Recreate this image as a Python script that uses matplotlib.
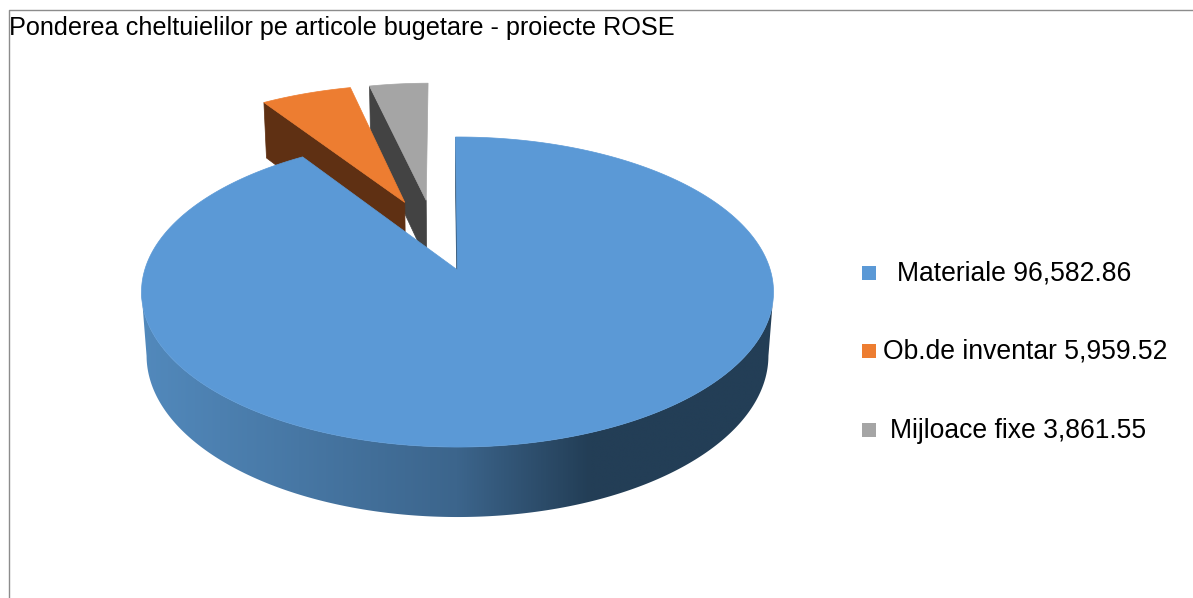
import numpy as np
import matplotlib
matplotlib.use("Agg")
import matplotlib.pyplot as plt
from matplotlib.colors import LinearSegmentedColormap
from matplotlib.patches import Polygon

plt.rcParams['font.family'] = ['Liberation Sans', 'DejaVu Sans']

labels = ["Materiale", "Ob.de inventar", "Mijloace fixe"]
values = [96582.86, 5959.52, 3861.55]
title = "Ponderea cheltuielilor pe articole bugetare - proiecte ROSE"

top_colors = ["#5B99D6", "#ED7D31", "#A5A5A5"]
cut_colors = ["#2F5373", "#5F3013", "#434343"]

# how far each slice is pulled out, in units of the radius
pull_u = [0.0, -0.180, -0.107]
pull_v = [0.0, -0.475, -0.490]

# pie placement in pixels + perspective
cx, cy = 457.5, 270
rx, ry = 312.8, 151.9
depth = 64
k_persp = 0.142
m_persp = 0.016
start_angle = -0.4


def project(u, v, z):
    s = 1 / (1 - k_persp * v + m_persp * z)
    return cx + rx * u * s, cy + (ry * v + depth * z) * s


def rim_xy(theta, pu, pv, z):
    t = np.radians(theta)
    return project(pu + np.sin(t), pv - np.cos(t), z)


def top_face(a, b, pu, pv):
    th = np.linspace(a, b, 300)
    x, y = rim_xy(th, pu, pv, 0)
    x0, y0 = project(pu, pv, 0)
    return np.r_[x0, x], np.r_[y0, y]


def cut_face(angle, pu, pv):
    x0, y0 = project(pu, pv, 0)
    x1, y1 = rim_xy(angle, pu, pv, 0)
    x2, y2 = rim_xy(angle, pu, pv, 1)
    x3, y3 = project(pu, pv, 1)
    return [x0, x1, x2, x3], [y0, y1, y2, y3]


fig = plt.figure(figsize=(11.93, 5.98), dpi=100)
ax = fig.add_axes([0, 0, 1, 1])
ax.axis("off")

# chart border, only top and left are inside the crop
ax.plot([9, 9, 1193], [598, 10, 10], color="#8C8C8C", lw=1.0, zorder=1)

angles = start_angle + np.r_[0, np.cumsum(values)] / np.sum(values) * 360

# small slices first, the big one goes over them
for i in [2, 1]:
    xs, ys = cut_face(angles[i], pull_u[i], pull_v[i])
    ax.fill(xs, ys, color=cut_colors[i], lw=0.5, zorder=2)
    xs, ys = top_face(angles[i], angles[i + 1], pull_u[i], pull_v[i])
    ax.fill(xs, ys, color=top_colors[i], lw=0.5, zorder=2)

# outer wall of the big slice, gradient image clipped to the wall shape
# only the front part between the two silhouette angles is visible
side_cmap = LinearSegmentedColormap.from_list(
    "side", [(0.0, "#5289BC"), (0.5, "#3C658C"), (0.71, "#233E56"), (1.0, "#233E56")])
edge_angle = np.degrees(np.arccos(-k_persp))
th = np.linspace(edge_angle, 360 - edge_angle, 600)
x_top, y_top = rim_xy(th, 0, 0, 0)
x_bot, y_bot = rim_xy(th, 0, 0, 1)
wall = Polygon(np.c_[np.r_[x_top, x_bot[::-1]], np.r_[y_top, y_bot[::-1]]],
               closed=True, transform=ax.transData, fc="none", ec="none")
ax.add_patch(wall)
grad = ax.imshow(np.linspace(0, 1, 512)[None, :], cmap=side_cmap, extent=(141, 773, 530, 280),
                 aspect="auto", zorder=3, interpolation="bilinear")
grad.set_clip_path(wall)

xs, ys = cut_face(angles[0], 0, 0)
ax.fill(xs, ys, color=cut_colors[0], lw=0.5, zorder=3)
xs, ys = top_face(angles[0], angles[1], 0, 0)
ax.fill(xs, ys, color=top_colors[0], lw=0.5, zorder=4)

ax.text(9, 28.5, title, fontsize=18.2, color="black", ha="left", va="center", zorder=5)

# legend, entries are not aligned in the original so placed by hand
key_y = [273, 351, 430]
text_x = [897, 883, 890]
for i in range(len(labels)):
    ax.plot(869, key_y[i], marker="s", ms=10.2, mew=0, color=top_colors[i], zorder=5)
    ax.text(text_x[i], key_y[i] + 0.5, f"{labels[i]} {values[i]:,.2f}", fontsize=19.1,
            color="black", ha="left", va="center", zorder=5)

ax.set_xlim(0, 1193)
ax.set_ylim(598, 0)

fig.savefig("out.png", dpi=100)
